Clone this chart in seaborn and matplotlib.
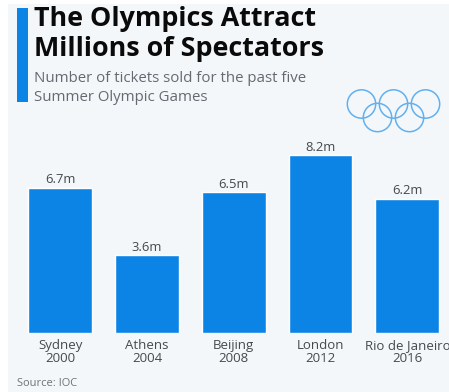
import matplotlib
matplotlib.use("Agg")
import matplotlib.pyplot as plt
import seaborn as sns
from matplotlib.patches import Circle, Rectangle

W, H = 449, 392
cities = ["Sydney", "Athens", "Beijing", "London", "Rio de Janeiro"]
years = ["2000", "2004", "2008", "2012", "2016"]
tickets = [6.7, 3.6, 6.5, 8.2, 6.2]
value_labels = ["6.7m", "3.6m", "6.5m", "8.2m", "6.2m"]

BLUE = "#0b84e6"
PANEL = "#f4f7fa"
RING = "#62b0ee"

sns.set_theme(style="white")
plt.rcParams["font.family"] = ["Open Sans", "DejaVu Sans"]

fig = plt.figure(figsize=(W / 100, H / 100), dpi=100, facecolor="white")

# Page-level layer in pixel coordinates, y pointing down
page = fig.add_axes([0, 0, 1, 1], zorder=0)
page.set_xlim(0, W)
page.set_ylim(H, 0)
page.axis("off")
page.add_patch(Rectangle((8, 4), W - 8, H - 4, color=PANEL, lw=0))
page.add_patch(Rectangle((17, 8), 11, 94, color=BLUE, lw=0))

page.text(34, 19, "The Olympics Attract", fontsize=19.4, fontweight="bold",
          color="#0a0a0a", va="center", ha="left")
page.text(34, 49, "Millions of Spectators", fontsize=19.4, fontweight="bold",
          color="#0a0a0a", va="center", ha="left")
page.text(34, 78.5, "Number of tickets sold for the past five", fontsize=10.8,
          color="#646a70", va="center", ha="left")
page.text(34, 97, "Summer Olympic Games", fontsize=10.8,
          color="#646a70", va="center", ha="left")
page.text(17, 383, "Source: IOC", fontsize=8.0, color="#6e7377",
          va="center", ha="left")

# Five interlocking rings
for cx, cy in [(361.5, 104), (393.5, 104), (425.5, 104), (377.5, 117.5), (409.5, 117.5)]:
    page.add_patch(Circle((cx, cy), 14.2, fill=False, ec=RING, lw=1.1))

# Bar panel: baseline sits at y=333.3, 21.7 px per million tickets
left_px, right_px, top_px, base_px = 17.0, 449, 120, 333.3
ax = fig.add_axes([left_px / W, 1 - base_px / H, (right_px - left_px) / W,
                   (base_px - top_px) / H], zorder=1)
ax.patch.set_alpha(0)
labels = [f"{c}\n{y}" for c, y in zip(cities, years)]
sns.barplot(x=labels, y=tickets, color=BLUE, saturation=1, width=0.735, ax=ax)
ax.set_xlim(-0.5, 4.48)
ax.set_ylim(0, (base_px - top_px) / 21.7)
ax.set_yticks([])
ax.set_ylabel("")
sns.despine(ax=ax, left=True, bottom=True, top=True, right=True)
ax.tick_params(axis="x", length=0, pad=4.2, labelsize=9.5, labelcolor="#45494d")
for lab in ax.get_xticklabels():
    lab.set_linespacing(0.98)

for i, (v, text) in enumerate(zip(tickets, value_labels)):
    ax.annotate(text, (i, v), xytext=(0, 1.2), textcoords="offset points",
                ha="center", va="bottom", fontsize=9.4, color="#44484c")

fig.savefig("out.png", dpi=100, facecolor="white")
